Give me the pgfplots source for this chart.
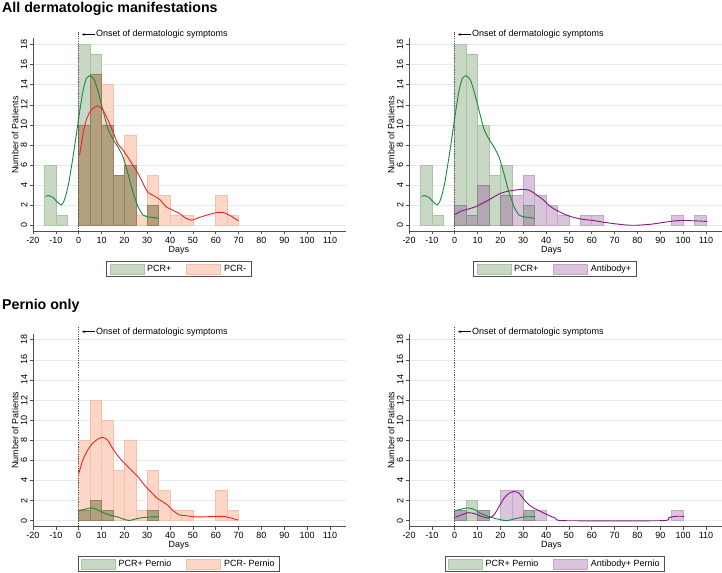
\documentclass[border=0pt]{standalone}
\usepackage{fontspec}
\setmainfont{Liberation Sans}
\usepackage{pgfplots}
\pgfplotsset{compat=1.18}
\usetikzlibrary{arrows.meta}

\definecolor{grn}{RGB}{200,216,196}
\definecolor{grnedge}{RGB}{172,196,166}
\definecolor{org}{RGB}{252,215,200}
\definecolor{orgedge}{RGB}{247,190,170}
\definecolor{brn}{RGB}{178,160,126}
\definecolor{brnedge}{RGB}{150,128,96}
\definecolor{pur}{RGB}{218,196,220}
\definecolor{puredge}{RGB}{196,166,200}
\definecolor{gry}{RGB}{178,168,178}
\definecolor{gryedge}{RGB}{145,135,145}
\definecolor{lgrn}{RGB}{20,140,60}
\definecolor{lred}{RGB}{235,35,35}
\definecolor{lpur}{RGB}{130,25,130}
\definecolor{gridc}{RGB}{226,237,239}
\definecolor{axc}{RGB}{80,80,80}

\newcommand{\smallfont}{\fontsize{9bp}{10.5bp}\selectfont}

\pgfplotsset{
  panel/.style={
    scale only axis, width=313bp, height=193bp,
    xmin=-20, xmax=117, ymin=-0.6, ymax=18.6,
    axis x line*=bottom, axis y line*=left,
    axis line style={-, axc, line width=0.7bp},
    xtick={-20,-10,...,110}, ytick={0,2,...,18},
    tick align=outside, major tick length=3bp,
    tick style={axc, line width=0.6bp},
    ymajorgrids, grid style={gridc, line width=0.6bp},
    /pgf/number format/assume math mode=true,
    ticklabel style={font=\smallfont},
    yticklabel style={rotate=90, anchor=south, inner sep=2.5bp},
    xticklabel style={inner sep=1.5bp, yshift=-1bp},
    xlabel={Days}, ylabel={Number of Patients},
    label style={font=\smallfont},
    ylabel style={at={(axis description cs:-0.046,0.5)}, anchor=south, inner sep=0pt},
    clip=false,
    legend columns=2,
    legend cell align=left,
  },
  legleft/.style={
    xlabel style={at={(axis description cs:0.466,0)}, anchor=north, inner sep=0pt, yshift=-14.5bp},
    legend style={at={(axis description cs:0.466,-0.194)}, anchor=center,
      draw=axc, line width=0.6bp, fill=white, font=\smallfont,
      inner xsep=3bp, inner ysep=1.5bp,
      /tikz/every odd column/.append style={column sep=1bp},
      /tikz/every even column/.append style={column sep=13bp}},
  },
  legright/.style={
    xlabel style={at={(axis description cs:0.455,0)}, anchor=north, inner sep=0pt, yshift=-14.5bp},
    legend style={at={(axis description cs:0.466,-0.194)}, anchor=center,
      draw=axc, line width=0.6bp, fill=white, font=\smallfont,
      inner xsep=3bp, inner ysep=1.5bp,
      /tikz/every odd column/.append style={column sep=1bp},
      /tikz/every even column/.append style={column sep=13bp}},
  },
  bars/.style={ybar, bar width=5, bar shift=0pt, line width=0.6bp,
    legend image code/.code={\draw[##1] (0bp,-5bp) rectangle (34bp,5bp);}},
  dens/.style={smooth, tension=0.4, no markers, line width=0.9bp, forget plot},
}

\newcommand{\onset}[1]{%
  \draw[axc, dash pattern=on 1.2bp off 1.2bp, line width=0.5bp] (axis cs:0,-0.6) -- (axis cs:0,19.25);
  \draw[{Stealth[length=3bp,width=2.5bp]}-, line width=0.5bp, black] (axis cs:1.4,#1) -- ++(13bp,0bp)
    node[right, inner sep=1bp, font=\smallfont] {Onset of dermatologic symptoms};
}

\begin{document}
\begin{tikzpicture}
\path[use as bounding box] (0,0) rectangle (722bp,573bp);

\node[anchor=base west, inner sep=0pt, font=\bfseries\fontsize{14.2bp}{16bp}\selectfont] at (2bp,560.3bp) {All dermatologic manifestations};
\node[anchor=base west, inner sep=0pt, font=\bfseries\fontsize{14.2bp}{16bp}\selectfont] at (2bp,263.5bp) {Pernio only};

% top left: PCR+ vs PCR-
\begin{axis}[panel, legleft, at={(33bp,341.5bp)}, anchor=south west]
\addplot[bars, fill=grn, draw=grnedge] coordinates {
  (-12.5,6) (-7.5,1) (2.5,18) (7.5,17) (12.5,10) (17.5,5) (22.5,6) (32.5,2)};
\addlegendentry{PCR+}
\addplot[bars, fill=org, draw=orgedge] coordinates {
  (2.5,10) (7.5,15) (12.5,14) (17.5,5) (22.5,9) (27.5,1) (32.5,5) (37.5,3)
  (42.5,1) (47.5,1) (62.5,3) (67.5,1)};
\addlegendentry{PCR-}
\addplot[bars, fill=brn, draw=brnedge, forget plot] coordinates {
  (2.5,10) (7.5,15) (12.5,10) (17.5,5) (22.5,6) (32.5,2)};
\addplot[dens, lgrn] coordinates {
  (-14.5,2.85) (-13.4,2.98) (-11.2,2.78) (-9.5,2.35) (-7.6,2.05) (-6.5,2.4)
  (-5.4,3.2) (-4.3,4.3) (-3.2,5.8) (-2.1,7.4) (-1.0,9.1) (0.4,11.3) (1.9,13.4)
  (3.3,14.6) (5.0,14.9) (6.8,14.5) (8.4,13.4) (10.6,11.5) (12.8,9.6) (15,8.6)
  (17.2,7.8) (19.4,6.8) (21.5,5.2) (23.5,3.5) (25.9,1.9) (28.1,1.05) (30.3,0.86)
  (32.5,0.8) (35,0.7)};
\addplot[dens, lred] coordinates {
  (0.4,7.0) (1.9,9.1) (3.3,10.5) (5.5,11.5) (8.4,11.9) (10.6,11.5) (12.8,10.5)
  (15,9.3) (17.2,8.1) (19.4,7.5) (21.5,6.8) (23.7,6.0) (25.9,5.2) (28.1,4.2)
  (30.3,3.3) (32.5,3.0) (35.4,2.6) (38.3,1.85) (40.5,1.6) (44.1,1.2) (47,0.7)
  (49.6,0.53) (52.8,0.8) (57.2,1.1) (60.8,1.3) (63.8,1.26) (66.7,0.93) (69.9,0.46)};
\onset{19.0}
\end{axis}

% top right: PCR+ vs Antibody+
\begin{axis}[panel, legright, at={(409bp,341.5bp)}, anchor=south west]
\addplot[bars, fill=grn, draw=grnedge] coordinates {
  (-12.5,6) (-7.5,1) (2.5,18) (7.5,17) (12.5,10) (17.5,5) (22.5,6) (32.5,2)};
\addlegendentry{PCR+}
\addplot[bars, fill=pur, draw=puredge] coordinates {
  (2.5,2) (7.5,1) (12.5,4) (22.5,3) (27.5,3) (32.5,5) (37.5,3) (42.5,2)
  (47.5,1) (57.5,1) (62.5,1) (97.5,1) (107.5,1)};
\addlegendentry{Antibody+}
\addplot[bars, fill=gry, draw=gryedge, forget plot] coordinates {
  (2.5,2) (7.5,1) (12.5,4) (22.5,3) (32.5,2)};
\addplot[dens, lgrn] coordinates {
  (-14.5,2.85) (-13.4,2.98) (-11.2,2.78) (-9.5,2.35) (-7.6,2.05) (-6.5,2.4)
  (-5.4,3.2) (-4.3,4.3) (-3.2,5.8) (-2.1,7.4) (-1.0,9.1) (0.4,11.3) (1.9,13.4)
  (3.3,14.6) (5.0,14.9) (6.8,14.5) (8.4,13.4) (10.6,11.5) (12.8,9.6) (15,8.6)
  (17.2,7.8) (19.4,6.8) (21.5,5.2) (23.5,3.5) (25.9,1.9) (28.1,1.05) (30.3,0.86)
  (32.5,0.8) (35,0.7)};
\addplot[dens, lpur] coordinates {
  (0.3,1.1) (2.5,1.4) (5.4,1.6) (8.4,1.8) (11.3,2.1) (14.2,2.45) (17.2,2.85)
  (20.1,3.2) (23.1,3.4) (26,3.5) (29.7,3.6) (32.6,3.5) (35.5,3.1) (38.5,2.6)
  (42.1,1.85) (45.8,1.36) (50.2,0.93) (55.4,0.63) (60.5,0.5) (64.9,0.33) (70,0.17)
  (75.9,0.03) (80.3,0.03) (86.2,0.13) (92.1,0.33) (96.5,0.46) (100.1,0.5)
  (105.3,0.46) (110.4,0.4)};
\onset{19.0}
\end{axis}

% bottom left: pernio PCR+ vs PCR-
\begin{axis}[panel, legleft, at={(33bp,46.3bp)}, anchor=south west]
\addplot[bars, fill=grn, draw=grnedge] coordinates {
  (2.5,1) (7.5,2) (12.5,1) (32.5,1)};
\addlegendentry{PCR+ Pernio}
\addplot[bars, fill=org, draw=orgedge] coordinates {
  (2.5,8) (7.5,12) (12.5,10) (17.5,5) (22.5,8) (27.5,1) (32.5,5) (37.5,3)
  (42.5,1) (47.5,1) (62.5,3) (67.5,1)};
\addlegendentry{PCR- Pernio}
\addplot[bars, fill=brn, draw=brnedge, forget plot] coordinates {
  (2.5,1) (7.5,2) (12.5,1) (32.5,1)};
\addplot[dens, lgrn] coordinates {
  (0,1.0) (2.5,1.13) (5.4,1.27) (7.6,1.15) (10.5,0.82) (13.4,0.57) (17,0.37)
  (19.9,0.13) (22.1,0.02) (25,0.17) (27.9,0.3) (31.6,0.37) (35,0.37)};
\addplot[dens, lred] coordinates {
  (0,4.65) (1.75,6.0) (3.9,7.0) (6.1,7.7) (8.3,8.1) (10.5,8.3) (12.7,8.0)
  (14.8,7.2) (17,6.5) (19.2,5.9) (21.4,5.4) (23.6,4.9) (25.8,4.4) (27.9,3.8)
  (30.1,3.2) (32.3,2.7) (34.5,2.2) (36.7,1.9) (38.9,1.55) (41,1.07) (44,0.57)
  (46.9,0.5) (49.8,0.4) (52.7,0.37) (57.1,0.4) (61.4,0.43) (64.3,0.4) (67.2,0.23)
  (69.7,0.07)};
\onset{18.8}
\end{axis}

% bottom right: pernio PCR+ vs Antibody+
\begin{axis}[panel, legright, at={(409bp,46.3bp)}, anchor=south west]
\addplot[bars, fill=grn, draw=grnedge] coordinates {
  (2.5,1) (7.5,2) (12.5,1) (32.5,1)};
\addlegendentry{PCR+ Pernio}
\addplot[bars, fill=pur, draw=puredge] coordinates {
  (2.5,1) (12.5,1) (22.5,3) (27.5,3) (32.5,1) (37.5,1) (97.5,1)};
\addlegendentry{Antibody+ Pernio}
\addplot[bars, fill=gry, draw=gryedge, forget plot] coordinates {
  (2.5,1) (12.5,1) (32.5,1)};
\addplot[dens, lgrn] coordinates {
  (0.3,1.0) (2.5,1.13) (5.7,1.27) (8.4,1.13) (11.3,0.73) (15,0.4) (18.6,0.17)
  (22.6,0.0) (26,0.17) (30.4,0.37) (35.2,0.4)};
\addplot[dens, lpur] coordinates {
  (0.3,0.33) (3.2,0.6) (6.2,0.8) (9.1,0.67) (12,0.4) (15,0.27) (17.2,0.57)
  (19.4,1.4) (21.6,2.23) (23.8,2.73) (26,2.9) (28.2,2.73) (30.4,2.07) (32.6,1.57)
  (34.8,1.23) (37.7,0.9) (40.7,0.57) (44.3,0.23) (48,0.0) (90.6,0.0) (93.5,0.27)
  (96.5,0.43) (100.4,0.43)};
\onset{18.8}
\end{axis}
\end{tikzpicture}
\end{document}
